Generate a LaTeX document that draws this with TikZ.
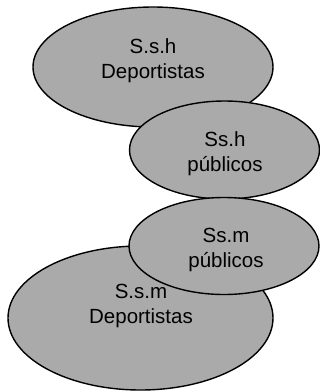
\documentclass[tikz,border=0pt]{standalone}
\usepackage{fontspec}
\setmainfont{Liberation Sans}
\usetikzlibrary{shapes.geometric}
\definecolor{blobfill}{RGB}{170,170,170}
\begin{document}
\begin{tikzpicture}[x=1pt,y=-1pt,
  blob/.style={ellipse, draw=black, line width=1.4pt, fill=blobfill, inner sep=0pt},
  lbl/.style={align=center, inner sep=0pt, text=black, font=\fontsize{20.5}{25}\selectfont}]
\useasboundingbox (0,0) rectangle (320,392);
\node[blob, minimum width=240pt, minimum height=120pt] (e1) at (153,67) {};
\node[blob, minimum width=190pt, minimum height=98pt] (e2) at (224.5,150) {};
\node[blob, minimum width=265pt, minimum height=144pt] (e4) at (140.5,318) {};
\node[blob, minimum width=190pt, minimum height=97pt] (e3) at (224,246) {};
\node[lbl] (t1) at (153,61) {S.s.h\\Deportistas};
\node[lbl] (t2) at (225,154) {Ss.h\\públicos};
\node[lbl] (t3) at (226,249.5) {Ss.m\\públicos};
\node[lbl] (t4) at (141,306) {S.s.m\\Deportistas};
\end{tikzpicture}
\end{document}
